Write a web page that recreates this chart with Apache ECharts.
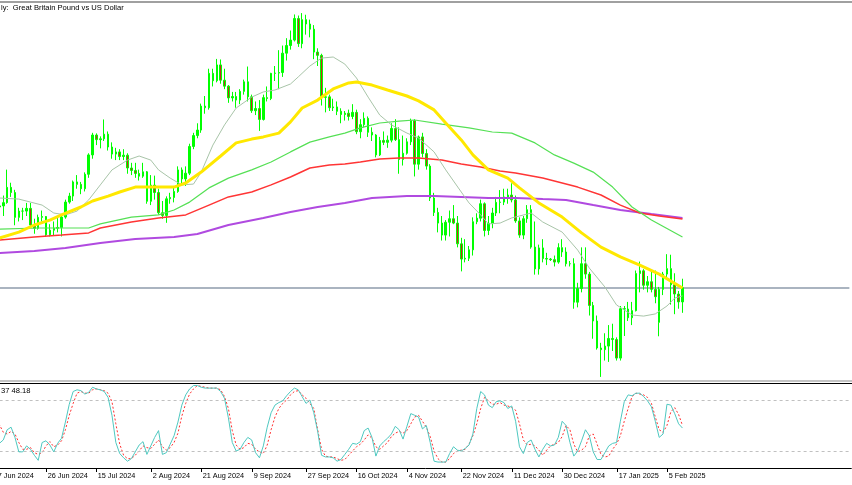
<!DOCTYPE html>
<html><head><meta charset="utf-8">
<script src="https://cdn.jsdelivr.net/npm/echarts@6/dist/echarts.min.js"></script>
<style>html,body{margin:0;padding:0;background:#fff}#c{width:852px;height:485px}</style>
</head><body><div id="c"></div>
<script>
// ---- data (bar index 0 = 7 Jun 2024) ----
const opens = [1.2798,1.2723,1.2727,1.2739,1.2795,1.2776,1.2685,1.2708,1.2708,1.2718,
1.2657,1.2645,1.2685,1.2688,1.2621,1.2638,1.2645,1.2648,1.2686,1.2741,
1.2763,1.2815,1.2806,1.2790,1.2843,1.2914,1.2987,1.2970,1.2973,1.2990,
1.2943,1.2917,1.2925,1.2908,1.2913,1.2866,1.2857,1.2846,1.2836,1.2852,
1.2744,1.2803,1.2776,1.2702,1.2692,1.2753,1.2758,1.2780,1.2859,1.2826,
1.2847,1.2945,1.2985,1.3005,1.3093,1.3087,1.3213,1.3186,1.3244,1.3188,
1.3166,1.3123,1.3128,1.3115,1.3147,1.3182,1.3127,1.3076,1.3084,1.3044,
1.3124,1.3121,1.3213,1.3214,1.3216,1.3287,1.3315,1.3335,1.3414,1.3322,
1.3410,1.3394,1.3375,1.3291,1.3279,1.3125,1.3127,1.3087,1.3090,1.3074,
1.3062,1.3067,1.3055,1.3070,1.2999,1.3025,1.3048,1.2997,1.2987,1.2914,
1.2967,1.2960,1.2968,1.3011,1.2970,1.2897,1.2920,1.2962,1.3040,1.2880,
1.2980,1.2919,1.2873,1.2756,1.2703,1.2664,1.2620,1.2667,1.2680,1.2664,
1.2588,1.2532,1.2535,1.2566,1.2669,1.2682,1.2735,1.2637,1.2663,1.2701,
1.2740,1.2741,1.2760,1.2767,1.2749,1.2672,1.2620,1.2680,1.2713,1.2576,
1.2496,1.2573,1.2534,1.2532,1.2530,1.2521,1.2574,1.2558,1.2515,1.2515,
1.2374,1.2424,1.2515,1.2477,1.2362,1.2305,1.2206,1.2200,1.2213,1.2241,
1.2237,1.2169,1.2350,1.2349,1.2317,1.2343,1.2479,1.2489,1.2436,1.2449,
1.2421,1.2300,1.2421,1.2477,1.2497,1.2438,1.2404,1.2375];
const highs = [1.2818,1.2745,1.2765,1.2860,1.2812,1.2786,1.2720,1.2720,1.2738,1.2738,
1.2680,1.2695,1.2710,1.2690,1.2660,1.2670,1.2685,1.2690,1.2750,1.2775,
1.2820,1.2840,1.2815,1.2850,1.2920,1.2995,1.2993,1.2982,1.3044,1.3000,
1.2960,1.2940,1.2935,1.2935,1.2920,1.2885,1.2885,1.2860,1.2885,1.2855,
1.2840,1.2838,1.2790,1.2745,1.2762,1.2775,1.2800,1.2872,1.2868,1.2872,
1.2955,1.2995,1.3030,1.3102,1.3130,1.3230,1.3230,1.3266,1.3264,1.3230,
1.3170,1.3145,1.3145,1.3155,1.3190,1.3238,1.3135,1.3110,1.3115,1.3135,
1.3165,1.3215,1.3240,1.3298,1.3315,1.3342,1.3370,1.3429,1.3425,1.3434,
1.3428,1.3410,1.3390,1.3305,1.3285,1.3160,1.3135,1.3120,1.3110,1.3085,
1.3075,1.3080,1.3100,1.3080,1.3045,1.3070,1.3055,1.3015,1.2990,1.2980,
1.3000,1.2985,1.3030,1.3045,1.3015,1.2985,1.2975,1.3047,1.3045,1.2985,
1.2995,1.2935,1.2880,1.2775,1.2720,1.2690,1.2675,1.2710,1.2730,1.2690,
1.2610,1.2605,1.2580,1.2685,1.2700,1.2750,1.2740,1.2690,1.2720,1.2760,
1.2785,1.2790,1.2790,1.2810,1.2765,1.2685,1.2690,1.2730,1.2730,1.2670,
1.2585,1.2605,1.2555,1.2536,1.2545,1.2590,1.2605,1.2575,1.2525,1.2535,
1.2445,1.2575,1.2575,1.2485,1.2375,1.2325,1.2225,1.2260,1.2290,1.2295,
1.2245,1.2360,1.2360,1.2375,1.2375,1.2490,1.2523,1.2495,1.2470,1.2485,
1.2490,1.2430,1.2485,1.2550,1.2548,1.2480,1.2415,1.2460];
const lows = [1.2715,1.2695,1.2690,1.2735,1.2760,1.2656,1.2670,1.2675,1.2690,1.2650,
1.2625,1.2640,1.2670,1.2613,1.2615,1.2620,1.2630,1.2615,1.2680,1.2735,
1.2745,1.2790,1.2770,1.2780,1.2830,1.2900,1.2950,1.2938,1.2965,1.2930,
1.2900,1.2895,1.2895,1.2895,1.2845,1.2840,1.2830,1.2820,1.2830,1.2735,
1.2730,1.2750,1.2695,1.2680,1.2665,1.2735,1.2740,1.2775,1.2800,1.2800,
1.2840,1.2935,1.2975,1.2995,1.3065,1.3080,1.3165,1.3180,1.3175,1.3155,
1.3105,1.3110,1.3087,1.3100,1.3135,1.3110,1.3068,1.3060,1.3002,1.3040,
1.3110,1.3115,1.3185,1.3155,1.3200,1.3260,1.3300,1.3330,1.3310,1.3305,
1.3355,1.3345,1.3265,1.3240,1.3095,1.3070,1.3075,1.3075,1.3060,1.3030,
1.3040,1.3040,1.3045,1.2990,1.2975,1.3015,1.2980,1.2965,1.2905,1.2910,
1.2950,1.2940,1.2960,1.2965,1.2845,1.2875,1.2915,1.2950,1.2835,1.2860,
1.2905,1.2860,1.2745,1.2690,1.2630,1.2600,1.2600,1.2615,1.2660,1.2575,
1.2487,1.2520,1.2525,1.2545,1.2660,1.2670,1.2615,1.2620,1.2645,1.2690,
1.2700,1.2730,1.2735,1.2740,1.2665,1.2610,1.2605,1.2665,1.2570,1.2475,
1.2475,1.2520,1.2510,1.2525,1.2505,1.2515,1.2540,1.2505,1.2505,1.2350,
1.2355,1.2410,1.2460,1.2325,1.2240,1.2200,1.2100,1.2160,1.2155,1.2195,
1.2160,1.2160,1.2250,1.2305,1.2290,1.2340,1.2410,1.2420,1.2410,1.2410,
1.2370,1.2249,1.2400,1.2460,1.2365,1.2330,1.2350,1.2335];
const closes = [1.2723,1.2727,1.2739,1.2795,1.2776,1.2685,1.2708,1.2708,1.2718,1.2657,
1.2645,1.2685,1.2688,1.2621,1.2638,1.2645,1.2648,1.2686,1.2741,1.2763,
1.2815,1.2806,1.2790,1.2843,1.2914,1.2987,1.2970,1.2973,1.2990,1.2943,
1.2917,1.2925,1.2908,1.2913,1.2866,1.2857,1.2846,1.2836,1.2852,1.2744,
1.2803,1.2776,1.2702,1.2692,1.2753,1.2758,1.2780,1.2859,1.2826,1.2847,
1.2945,1.2985,1.3005,1.3093,1.3087,1.3213,1.3186,1.3244,1.3188,1.3166,
1.3123,1.3128,1.3115,1.3147,1.3182,1.3127,1.3076,1.3084,1.3044,1.3124,
1.3121,1.3213,1.3214,1.3216,1.3287,1.3315,1.3335,1.3414,1.3322,1.3410,
1.3394,1.3375,1.3291,1.3279,1.3125,1.3127,1.3087,1.3090,1.3074,1.3062,
1.3067,1.3055,1.3070,1.2999,1.3025,1.3048,1.2997,1.2987,1.2914,1.2967,
1.2960,1.2968,1.3011,1.2970,1.2897,1.2920,1.2962,1.3040,1.2880,1.2980,
1.2919,1.2873,1.2756,1.2703,1.2664,1.2620,1.2667,1.2680,1.2664,1.2588,
1.2532,1.2535,1.2566,1.2669,1.2682,1.2735,1.2637,1.2663,1.2701,1.2740,
1.2741,1.2760,1.2767,1.2749,1.2672,1.2620,1.2680,1.2713,1.2576,1.2496,
1.2573,1.2534,1.2532,1.2530,1.2521,1.2574,1.2558,1.2515,1.2515,1.2374,
1.2424,1.2515,1.2477,1.2362,1.2305,1.2206,1.2200,1.2213,1.2241,1.2237,
1.2169,1.2350,1.2349,1.2317,1.2343,1.2479,1.2489,1.2436,1.2449,1.2421,
1.2394,1.2421,1.2477,1.2497,1.2438,1.2404,1.2375,1.2427];
const bidPrice = 1.2426;

// moving averages: [bar index, price]
const maGray = [[0,1.2757],[1,1.2756],[6,1.2752],[12,1.2730],[15,1.2701],[18,1.2694],[21,1.2708],[24,1.2749],[27,1.2804],[30,1.2859],[34,1.2895],[37,1.2910],[40,1.2895],[42,1.2859],[45,1.2829],[48,1.2804],[51,1.2807],[53,1.2851],[56,1.2950],[59,1.3024],[62,1.3086],[66,1.3126],[69,1.3145],[72,1.3152],[76,1.3174],[78,1.3200],[81,1.3240],[84,1.3269],[87,1.3273],[90,1.3247],[93,1.3196],[96,1.3126],[99,1.3060],[102,1.3024],[106,1.2994],[109,1.2976],[113,1.2925],[116,1.2859],[120,1.2778],[122,1.2738],[125,1.2694],[127,1.2661],[130,1.2664],[133,1.2683],[135,1.2690],[138,1.2701],[141,1.2668],[146,1.2631],[150,1.2565],[153,1.2499],[157,1.2430],[160,1.2364],[164,1.2327],[167,1.2323],[170,1.2331],[173,1.2360],[175,1.2389],[177,1.2397]];
const maYellow = [[0,1.2605],[1,1.2609],[6,1.2631],[10,1.2657],[14,1.2675],[17,1.2694],[22,1.2723],[25,1.2745],[29,1.2763],[32,1.2778],[36,1.2796],[42,1.2796],[46,1.2796],[49,1.2811],[53,1.2851],[58,1.2910],[62,1.2958],[66,1.2972],[69,1.2980],[73,1.2994],[76,1.3035],[79,1.3086],[83,1.3115],[87,1.3156],[91,1.3178],[93,1.3181],[97,1.3170],[101,1.3152],[106,1.3130],[109,1.3112],[113,1.3079],[116,1.3031],[120,1.2969],[123,1.2914],[127,1.2859],[132,1.2829],[135,1.2793],[140,1.2738],[146,1.2686],[151,1.2628],[156,1.2576],[161,1.2540],[166,1.2510],[171,1.2477],[177,1.2426]];
const maGreen = [[0,1.2641],[1,1.2642],[11,1.2646],[24,1.2646],[27,1.2661],[35,1.2686],[42,1.2694],[46,1.2712],[50,1.2741],[55,1.2793],[60,1.2829],[66,1.2859],[71,1.2888],[76,1.2925],[81,1.2961],[86,1.2980],[90,1.2994],[94,1.3013],[99,1.3031],[104,1.3038],[108,1.3042],[115,1.3027],[122,1.3013],[128,1.2998],[133,1.2994],[139,1.2958],[144,1.2914],[149,1.2884],[154,1.2851],[159,1.2796],[164,1.2723],[169,1.2675],[177,1.2613]];
const maRed = [[0,1.2600],[1,1.2602],[10,1.2613],[17,1.2620],[24,1.2628],[27,1.2646],[35,1.2668],[42,1.2683],[49,1.2694],[55,1.2730],[60,1.2760],[66,1.2778],[71,1.2804],[76,1.2833],[81,1.2866],[86,1.2877],[90,1.2881],[94,1.2888],[99,1.2899],[104,1.2903],[109,1.2903],[115,1.2895],[120,1.2881],[125,1.2870],[130,1.2855],[134,1.2848],[141,1.2829],[150,1.2796],[156,1.2767],[161,1.2730],[166,1.2701],[171,1.2690],[177,1.2679]];
const maPurple = [[0,1.2552],[1,1.2554],[10,1.2562],[18,1.2573],[27,1.2591],[36,1.2606],[46,1.2613],[52,1.2624],[60,1.2657],[69,1.2683],[76,1.2705],[83,1.2723],[90,1.2738],[97,1.2756],[106,1.2763],[113,1.2763],[120,1.2760],[127,1.2756],[134,1.2756],[141,1.2752],[147,1.2749],[154,1.2730],[161,1.2712],[169,1.2697],[177,1.2683]];

// stochastic oscillator, one value per bar
const stochMain = [25,29,33,45,48,36,19,19,26,22,15,9,30,32,27,19,29,35,54,75,
90,92,91,87,89,95,93,92,90,83,62,30,17,12,8,11,19,27,31,16,
26,36,44,16,18,28,38,54,74,86,93,97,97,95,94,94,94,94,90,82,
59,30,20,22,30,36,33,18,12,26,48,65,74,77,79,85,90,94,92,84,
76,80,65,43,15,13,13,12,8,10,16,22,29,28,31,44,47,36,14,26,
31,35,40,49,45,34,49,64,62,60,46,50,30,8,7,7,7,17,25,21,
20,23,27,40,70,90,86,74,71,78,79,77,70,73,55,25,17,30,33,22,
13,22,29,26,27,36,55,50,30,14,20,32,45,38,19,10,10,18,26,29,
30,55,78,86,85,88,88,84,79,72,55,36,40,75,74,64,52,47];
const stochSignal = [55,51,42,40,43,40,30,22,22,24,18,16,18,26,31,25,27,32,45,62,
76,88,90,88,88,92,93,92,91,88,78,52,28,15,11,11,15,20,26,24,
23,28,33,25,21,24,30,41,61,76,87,93,97,96,95,94,94,94,92,84,
70,44,27,22,24,29,28,22,19,17,27,45,60,70,76,80,86,90,91,86,
82,76,70,45,22,14,13,13,11,9,10,15,20,25,28,33,39,35,25,22,
26,30,37,41,43,41,44,52,60,62,55,48,37,20,11,7,7,11,17,20,
21,22,28,38,52,70,83,79,75,75,77,74,73,71,68,52,33,27,28,26,
21,15,21,26,28,30,37,50,45,28,19,21,25,38,40,28,16,13,14,22,
28,38,55,70,84,88,87,86,83,76,60,45,42,50,66,71,63,50];

const tickIdx = [0,13,26,40,53,66,80,93,106,120,133,146,160,173];
const tickLabels = ['7 Jun 2024','26 Jun 2024','15 Jul 2024','2 Aug 2024','21 Aug 2024','9 Sep 2024','27 Sep 2024','16 Oct 2024','4 Nov 2024','22 Nov 2024','11 Dec 2024','30 Dec 2024','17 Jan 2025','5 Feb 2025'];
const levels = [20, 80];

// ---- chart ----
const NCAT = 221;
const cats = Array.from({length: NCAT}, (_, i) => i);
const FONT = '"Liberation Sans", Arial, sans-serif';
const chart = echarts.init(document.getElementById('c'), null, {renderer: 'canvas'});

function maSeries(data, color, width) {
  return {type: 'line', xAxisIndex: 0, yAxisIndex: 0, data: data, showSymbol: false, symbol: 'none',
    lineStyle: {color: color, width: width}, z: 5, silent: true};
}

const option = {
  animation: false,
  backgroundColor: '#ffffff',
  grid: [
    {left: -6.4, width: NCAT * 3.881, top: 3, height: 375, outerBoundsMode: 'none', containLabel: false},
    {left: -6.4, width: NCAT * 3.881, top: 383, height: 85, outerBoundsMode: 'none', containLabel: false}
  ],
  xAxis: [
    {type: 'category', gridIndex: 0, data: cats, boundaryGap: true, show: false},
    {type: 'category', gridIndex: 1, data: cats, boundaryGap: true,
      axisLine: {show: true, lineStyle: {color: '#000', width: 1}},
      axisTick: {show: false}, axisLabel: {show: false}, splitLine: {show: false}}
  ],
  yAxis: [
    {type: 'value', gridIndex: 0, min: 1.2096, max: 1.3471, show: false, splitLine: {show: false}},
    {type: 'value', gridIndex: 1, min: 0, max: 100, show: false, splitLine: {show: false}}
  ],
  series: [
    {type: 'line', xAxisIndex: 0, yAxisIndex: 0, data: [[0, bidPrice], [NCAT - 1, bidPrice]],
      showSymbol: false, symbol: 'none', silent: true, lineStyle: {color: '#aab4c0', width: 2}, z: 2},
    {type: 'candlestick', xAxisIndex: 0, yAxisIndex: 0, barWidth: 2, z: 3, silent: true,
      data: opens.map((o, i) => [o, closes[i], lows[i], highs[i]]),
      itemStyle: {color: '#00ff00', color0: '#c0301a', borderColor: '#00ff00', borderColor0: '#00ff00', borderWidth: 1}},
    maSeries(maPurple, '#b04ae0', 2),
    maSeries(maRed, '#ff3535', 1.5),
    maSeries(maGreen, '#55e055', 1.2),
    maSeries(maGray, '#a8c4a8', 1),
    maSeries(maYellow, '#ffe800', 3),
    {type: 'line', xAxisIndex: 1, yAxisIndex: 1, data: levels.map(() => null), showSymbol: false, silent: true,
      markLine: {silent: true, symbol: 'none', label: {show: false},
        lineStyle: {color: '#c0c0c0', width: 1, type: [3, 3]},
        data: levels.map(v => ({yAxis: v}))}, z: 2},
    {type: 'line', xAxisIndex: 1, yAxisIndex: 1, data: stochSignal, showSymbol: false, symbol: 'none', silent: true,
      lineStyle: {color: '#ff3030', width: 1, type: [2, 2]}, z: 4},
    {type: 'line', xAxisIndex: 1, yAxisIndex: 1, data: stochMain, showSymbol: false, symbol: 'none', silent: true,
      lineStyle: {color: '#4fc8c0', width: 1}, z: 5}
  ]
};
chart.setOption(option);

// frame pieces, texts and date ticks (positions from the chart's own axis)
const g = [
  {type: 'rect', shape: {x: 0, y: 1, width: 852, height: 2}, style: {fill: '#a0a0a0'}, z: 10},
  {type: 'rect', shape: {x: 0, y: 380, width: 852, height: 2}, style: {fill: '#c4c4c4'}, z: 10},
  {type: 'rect', shape: {x: 0, y: 383, width: 852, height: 1}, style: {fill: '#000000'}, z: 10},
  {type: 'text', x: 1, y: 8, z: 10, style: {text: 'ly:  Great Britain Pound vs US Dollar', font: '7.6px ' + FONT, fill: '#000', textVerticalAlign: 'middle'}},
  {type: 'text', x: 1, y: 390.5, z: 10, style: {text: '37 48.18', font: '7.6px ' + FONT, fill: '#000', textVerticalAlign: 'middle'}}
];
tickIdx.forEach((ix, k) => {
  const px = Math.round(chart.convertToPixel({xAxisIndex: 1}, ix)) + 0.5;
  g.push({type: 'line', shape: {x1: px, y1: 468, x2: px, y2: 472}, style: {stroke: '#000', lineWidth: 1}, z: 10});
  g.push({type: 'text', x: px + 1.2, y: 475.5, z: 10, style: {text: tickLabels[k], font: '7.3px ' + FONT, fill: '#000', textVerticalAlign: 'middle'}});
});
chart.setOption({graphic: g});
</script>
</body></html>
